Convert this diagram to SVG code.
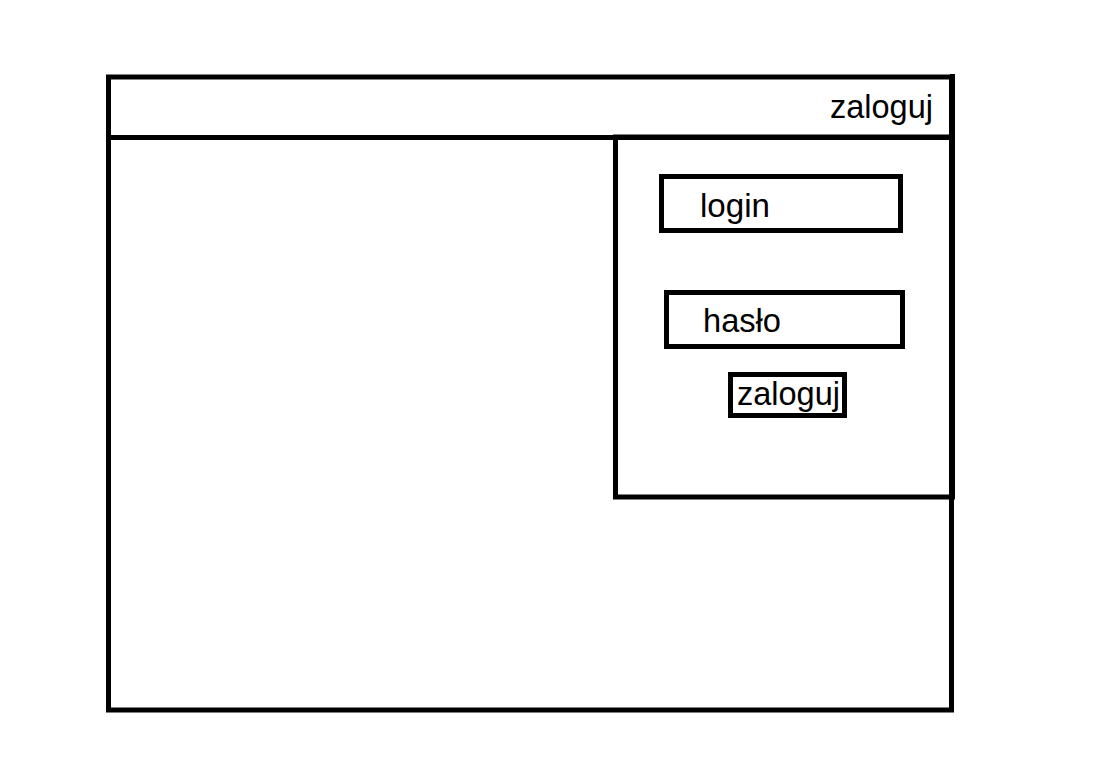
<svg xmlns="http://www.w3.org/2000/svg" width="1096" height="770" viewBox="0 0 1096 770">
<style>
.box{fill:none;stroke:#000;stroke-width:5}
.t{font-family:"Liberation Sans",Arial,sans-serif;font-size:34px;fill:#000}
</style>
<rect width="1096" height="770" fill="#fff"/>
<g id="window">
<rect class="box" x="108.5" y="77" width="843" height="633"/>
<line class="box" x1="106" y1="137.5" x2="955" y2="137.5"/>
<line class="box" x1="952.5" y1="74" x2="952.5" y2="137"/>
<text class="t" x="830" y="118" textLength="103" lengthAdjust="spacingAndGlyphs">zaloguj</text>
</g>
<g id="panel">
<rect class="box" x="615.5" y="137" width="337" height="360"/>
</g>
<g id="login">
<rect class="box" x="661.5" y="176.5" width="239" height="54"/>
<text class="t" x="700" y="217" textLength="70" lengthAdjust="spacingAndGlyphs">login</text>
</g>
<g id="haslo">
<rect class="box" x="666.5" y="292.5" width="236" height="54"/>
<text class="t" x="703" y="332" textLength="78" lengthAdjust="spacingAndGlyphs">hasło</text>
</g>
<g id="button">
<rect class="box" x="730.5" y="374.5" width="114" height="41"/>
<text class="t" x="737" y="405" textLength="103" lengthAdjust="spacingAndGlyphs">zaloguj</text>
</g>
</svg>
